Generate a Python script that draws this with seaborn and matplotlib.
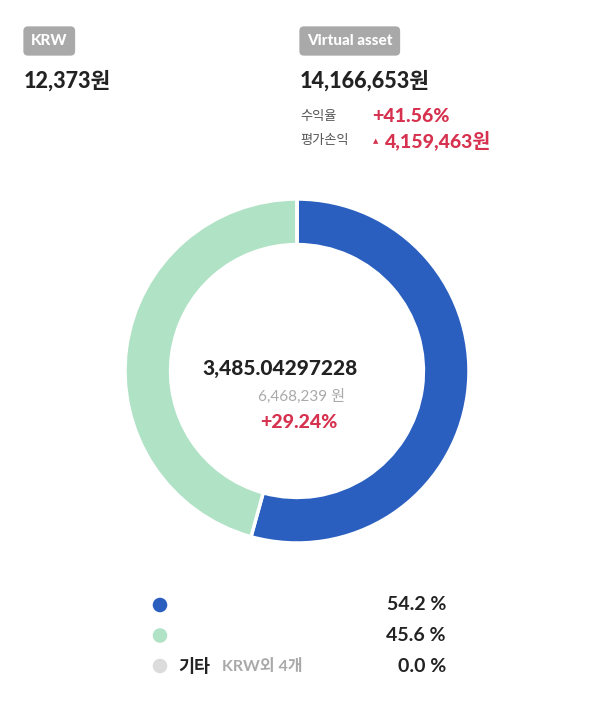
import pandas as pd
import matplotlib
matplotlib.use("Agg")
import matplotlib.pyplot as plt
import seaborn as sns

# data
krw_total = "12,373원"
asset_total = "14,166,653원"
profit_rate = "+41.56%"
profit_amount = "4,159,463원"
center_qty = "3,485.04297228"
center_value = "6,468,239 원"
center_rate = "+29.24%"

categories = ["", "", "기타"]
shares = [54.2, 45.6, 0.0]
share_labels = ["54.2 %", "45.6 %", "0.0 %"]
colors = ["#2a5fc0", "#b0e2c6", "#dcdcdc"]

W, H = 600, 723
sns.set_theme(style="white")
plt.rcParams['font.family'] = ['Lato', 'Noto Sans CJK KR', 'DejaVu Sans']

RED = "#d6324f"
DARK = "#222222"
GRAY = "#a9a9a9"

fig = plt.figure(figsize=(W / 100, H / 100), dpi=100, facecolor="white")


def txt(x, y, s, **kw):
    # pixel coords from top-left
    kw.setdefault("va", "center")
    fig.text(x / W, 1 - y / H, s, **kw)


# donut
cx, cy, r = 297, 371, 172
ax = fig.add_axes([(cx - r) / W, (H - cy - r) / H, 2 * r / W, 2 * r / H])
ax.pie(shares, colors=colors, startangle=90, counterclock=False,
       wedgeprops=dict(width=0.265, edgecolor="white", linewidth=2.5))
ax.set_xlim(-1, 1)
ax.set_ylim(-1, 1)
ax.set_aspect("equal")
ax.axis("off")

# header
badge = dict(boxstyle="round,pad=0.5,rounding_size=0.3", fc=GRAY, ec="none")
txt(31, 41, "KRW", fontsize=11, fontweight="black", color="white", bbox=badge)
txt(307, 41, "Virtual asset", fontsize=11, fontweight="black", color="white", bbox=badge)
txt(24, 81, krw_total, fontsize=15.5, fontweight="black", color=DARK)
txt(300, 81, asset_total, fontsize=15.5, fontweight="black", color=DARK)
txt(300, 116, "수익율", fontsize=9.5, color="#555555")
txt(372, 116, profit_rate, fontsize=14, fontweight="black", color=RED)
txt(300, 140, "평가손익", fontsize=9.5, color="#555555")
txt(373, 141, "▲", fontsize=5, color=RED, family=["DejaVu Sans"])
txt(385, 140, profit_amount, fontsize=14, fontweight="black", color=RED)

# donut center
txt(202, 369, center_qty, fontsize=15, fontweight="black", color=DARK)
txt(258, 396, center_value, fontsize=11, color=GRAY)
txt(260, 423, center_rate, fontsize=14, fontweight="black", color=RED)

# legend
lax = fig.add_axes([0, 0, 1, 1], facecolor="none")
leg = pd.DataFrame({"cat": categories, "share": shares, "label": share_labels})
leg["x"] = 160
leg["y"] = 605 + leg.index * 30.5
sns.scatterplot(data=leg, x="x", y="y", hue="label", palette=colors,
                s=110, edgecolor="none", legend=False, ax=lax)
lax.set_xlim(0, W)
lax.set_ylim(H, 0)
lax.axis("off")
for i, row in leg.iterrows():
    txt(446, row["y"], row["label"], fontsize=14, fontweight="bold", color=DARK, ha="right")
txt(178, leg["y"].iloc[2], categories[2], fontsize=12.5, fontweight="bold", color=DARK)
txt(222, leg["y"].iloc[2], "KRW외 4개", fontsize=11.5, fontweight="bold", color=GRAY)

fig.savefig("out.png", dpi=100, facecolor="white")
